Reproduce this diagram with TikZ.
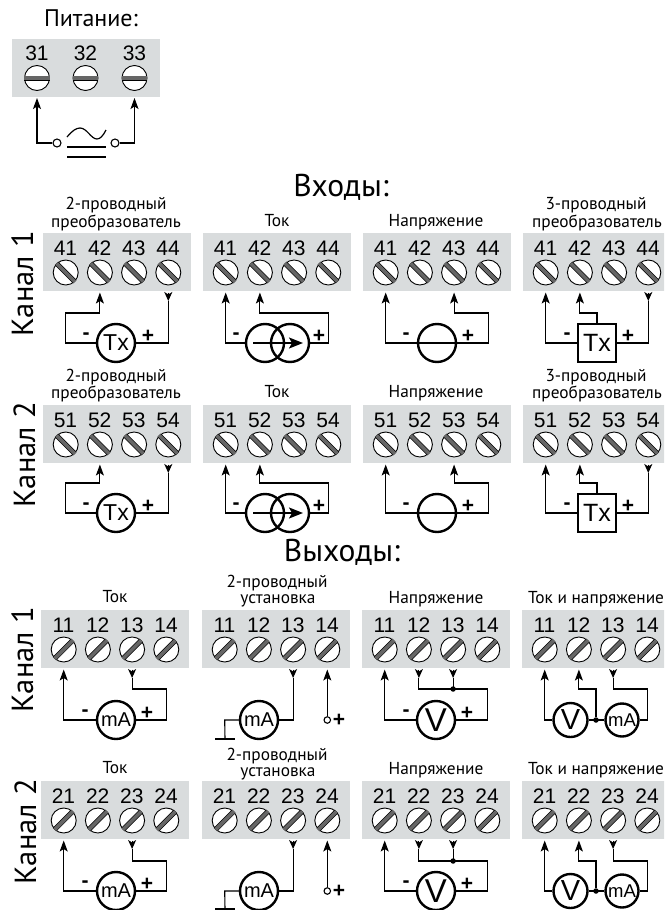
\documentclass[tikz,border=0pt]{standalone}
\usepackage{fontspec}
\setmainfont{PT Sans}
\newfontfamily\arialf{Liberation Sans}
\usetikzlibrary{arrows.meta,calc}
\definecolor{blockgray}{HTML}{D9DCDD}
\definecolor{slotgray}{HTML}{666666}
\newcommand\fs[1]{\fontsize{#1}{#1}\selectfont}
\tikzset{
  wire/.style={draw=black,line width=1.1pt,line join=miter},
  tipw/.style={wire,-{Stealth[length=11pt,width=8pt,inset=2.5pt]}},
  tipd/.style={wire,-{Stealth[length=9pt,width=8pt,inset=2.5pt]}},
  screwn/.style={circle,draw=black,fill=white,line width=.9pt,minimum size=25pt,inner sep=0pt},
  slotb/.style={draw=black,line width=5pt},
  slotg/.style={draw=slotgray,line width=3.6pt},
  numt/.style={font=\arialf\fs{21},inner sep=0pt,text height=15pt,text depth=0pt},
  capt/.style={font=\fs{17.3},inner sep=0pt,text height=12pt,text depth=3pt},
  title/.style={font=\fs{31.5},inner sep=0pt,text height=22pt,text depth=6pt},
  sidet/.style={font=\fs{30.5},inner sep=0pt,rotate=90,text height=22pt,text depth=0pt},
  sign/.style={font=\arialf\bfseries\fs{21},inner sep=0pt},
  comp/.style={circle,draw=black,fill=white,line width=2.4pt,minimum size=38pt,inner sep=0pt},
  compt/.style={font=\arialf\fs{#1},inner sep=0pt},
  dotn/.style={circle,fill=black,minimum size=5.5pt,inner sep=0pt},
  opn/.style={circle,draw=black,fill=white,line width=1.1pt,minimum size=#1,inner sep=0pt},
}
% name, left, top, numbers, anchor a, anchor b, upper y, line y
\newcommand\tblock[8]{%
  \node[fill=blockgray,minimum width=148pt,minimum height=58pt,inner sep=0pt,anchor=north west] (#1-b) at (#2,#3) {};
  \foreach \n [count=\i] in {#4}{%
    \pgfmathsetmacro\sx{#2+22.7+34.2*(\i-1)}
    \node[numt] (#1-n\i) at (\sx-.2,#3+14.5) {\n};
    \node[screwn] (#1-s\i) at (\sx,#3+39.5) {};
    \draw[slotb] (#1-s\i.#5) -- (#1-s\i.#6);
    \draw[slotg] (#1-s\i.#5) -- (#1-s\i.#6);
    \coordinate (#1-t\i) at (\sx,#3+59.5);
    \coordinate (#1-d\i) at (\sx,#3+68);
    \coordinate (#1-u\i) at (\sx,#7);
    \coordinate (#1-l\i) at (\sx,#8);
  }
}
\newcommand\dnarrow[2]{\draw[tipd] (#1-t#2) -- (#1-d#2);}
\newcommand\signs[4]{% name, minus x, plus x, line y
  \node[sign] (#1-minus) at (#2,#4-7) {-};
  \node[sign] (#1-plus) at (#3,#4-7) {+};}
% two-wire transmitter
\newcommand\ctwo[3]{% name, left, line y
  \node[comp] (#1-c) at (#2+73,#3) {};
  \node[compt=23] (#1-ct) at (#1-c) {Tx};
  \signs{#1}{#2+43}{#2+105}{#3}
  \draw[tipw] (#1-c.west) -- (#1-l1) -- (#1-u1) -- (#1-u2) -- (#1-t2);
  \dnarrow{#1}{4}
  \draw[wire] (#1-c.east) -- (#1-l4) -- (#1-d4);}
\newcommand\ccur[3]{%
  \node[comp,fill=none] (#1-c) at (#2+62,#3) {};
  \node[comp,fill=none] (#1-e) at (#2+87,#3) {};
  \coordinate (#1-a) at (#2+50,#3);
  \coordinate (#1-b2) at (#2+100,#3);
  \signs{#1}{#2+33}{#2+116}{#3}
  \draw[line width=1.7pt,-{Stealth[length=14pt,width=11pt,inset=3pt]}] (#1-a) -- (#1-b2);
  \draw[tipw] (#1-c.west) -- (#1-l1) -- (#1-t1);
  \draw[tipw] (#1-e.east) -- (#1-l4) -- (#1-u4) -- (#1-u2) -- (#1-t2);}
\newcommand\cvolt[3]{%
  \node[comp] (#1-c) at (#2+74,#3) {};
  \signs{#1}{#2+43}{#2+105}{#3}
  \draw[line width=1.7pt] (#1-c.west) -- (#1-c.east);
  \draw[tipw] (#1-c.west) -- (#1-l1) -- (#1-t1);
  \draw[tipw] (#1-c.east) -- (#1-l4) -- (#1-u4) -- (#1-u3) -- (#1-t3);}
\newcommand\cthree[3]{%
  \node[draw=black,fill=white,line width=2.4pt,minimum size=38pt,inner sep=0pt] (#1-c) at (#2+74,#3) {};
  \node[compt=25] (#1-ct) at (#1-c) {Tx};
  \signs{#1}{#2+44}{#2+105}{#3}
  \draw[tipw] (#1-c.west) -- (#1-l1) -- (#1-t1);
  \draw[tipw] (#1-c.north) -- (#1-c.north |- #1-u2) -- (#1-u2) -- (#1-t2);
  \dnarrow{#1}{4}
  \draw[wire] (#1-c.east) -- (#1-l4) -- (#1-d4);}
\newcommand\omA[3]{%
  \node[comp] (#1-c) at (#2+75,#3) {};
  \node[compt=20] (#1-ct) at (#1-c) {mA};
  \signs{#1}{#2+44}{#2+106}{#3}
  \draw[tipw] (#1-c.west) -- (#1-l1) -- (#1-t1);
  \dnarrow{#1}{3}
  \draw[wire] (#1-c.east) -- (#1-l4) -- (#1-u4) -- (#1-u3) -- (#1-d3);}
\newcommand\oinst[4]{% name,left,line y, ground y
  \node[comp] (#1-c) at (#2+57,#3) {};
  \node[compt=20] (#1-ct) at (#1-c) {mA};
  \coordinate (#1-g) at (#2+23,#4);
  \coordinate (#1-ga) at (#2+13,#4);
  \coordinate (#1-gb) at (#2+33,#4);
  \draw[wire] (#1-c.west) -- (#1-l1) -- (#1-g);
  \draw[line width=1.8pt] (#1-ga) -- (#1-gb);
  \dnarrow{#1}{3}
  \draw[wire] (#1-c.east) -- (#1-l3) -- (#1-d3);
  \node[opn=6.5pt] (#1-o) at (#1-l4) {};
  \draw[tipw] (#1-o.north) -- (#1-t4);
  \node[sign] (#1-plus) at (#2+137,#3) {+};}
\newcommand\oV[3]{%
  \node[comp] (#1-c) at (#2+74,#3) {};
  \node[compt=33] (#1-ct) at (#1-c) {V};
  \signs{#1}{#2+44}{#2+105}{#3}
  \draw[tipw] (#1-c.west) -- (#1-l1) -- (#1-t1);
  \dnarrow{#1}{2}
  \dnarrow{#1}{3}
  \draw[wire] (#1-c.east) -- (#1-l4) -- (#1-u4) -- (#1-u2) -- (#1-d2);
  \draw[wire] (#1-u3) -- (#1-d3);
  \node[dotn] (#1-j) at (#1-u3) {};}
\newcommand\oboth[3]{%
  \node[comp,minimum size=34pt] (#1-c) at (#2+48.5,#3) {};
  \node[compt=29] (#1-ct) at (#1-c) {V};
  \node[comp,minimum size=33pt] (#1-e) at (#2+100,#3) {};
  \node[compt=18.5] (#1-et) at (#1-e) {mA};
  \node[dotn] (#1-j) at (#2+74,#3) {};
  \draw[tipw] (#1-c.west) -- (#1-l1) -- (#1-t1);
  \draw[wire] (#1-c.east) -- (#1-e.west);
  \draw[tipw] (#1-j) -- (#1-j |- #1-u2) -- (#1-u2) -- (#1-t2);
  \dnarrow{#1}{3}
  \draw[wire] (#1-e.east) -- (#1-l4) -- (#1-u4) -- (#1-u3) -- (#1-d3);}
\begin{document}
\begin{tikzpicture}[x=1pt,y=-1pt]
\useasboundingbox (0,0) rectangle (664,910);
\clip (0,0) rectangle (664,910);
% Power
\node[font=\fs{24},inner sep=0pt,text height=17pt,text depth=1pt] (pow) at (91,19) {Питание:};
\node[fill=blockgray,minimum width=148pt,minimum height=58pt,inner sep=0pt,anchor=north west] (pb) at (12,39) {};
\foreach \n/\x [count=\i] in {31/37,32/85.5,33/134.5}{
  \node[numt] (pn\i) at (\x,52.5) {\n};
  \node[screwn] (ps\i) at (\x,78) {};
  \draw[slotb] (ps\i.180) -- (ps\i.0);
  \draw[slotg] (ps\i.180) -- (ps\i.0);
}
\coordinate (pt1) at (37,98);
\coordinate (pt3) at (134.5,98);
\coordinate (pc1) at (37,143);
\coordinate (pc3) at (134.5,143);
\node[opn=8pt] (po1) at (57,143) {};
\node[opn=8pt] (po3) at (115,143) {};
\draw[tipw] (po1.west) -- (pc1) -- (pt1);
\draw[tipw] (po3.east) -- (pc3) -- (pt3);
\draw[line width=1.2pt] (67,137) .. controls (72,131) and (76,128) .. (80,128) .. controls (87,128) and (91,139) .. (97,139) .. controls (100,139) and (103,136) .. (106,130);
\draw[line width=1.2pt] (67,147) -- (106,147);
\draw[line width=1.2pt] (67,157) -- (106,157);
% Titles
\node[title] (tin) at (341,188) {Входы:};
\node[title] (tout) at (342,553) {Выходы:};
\node[sidet] (k1) at (22,284) {Канал 1};
\node[sidet] (k2) at (24,455) {Канал 2};
\node[sidet] (k3) at (22,660) {Канал 1};
\node[sidet] (k4) at (25,832) {Канал 2};
% Inputs row 1
\node[capt] (a1) at (116,205) {2-проводный};
\node[capt] (a2) at (116,223) {преобразователь};
\node[capt] (a3) at (277,222) {Ток};
\node[capt] (a4) at (436,222) {Напряжение};
\node[capt] (a5) at (596,205) {3-проводный};
\node[capt] (a6) at (597,223) {преобразователь};
\tblock{A}{43}{233}{41,42,43,44}{135}{-45}{313}{343}
\tblock{B}{203}{233}{41,42,43,44}{135}{-45}{313}{343}
\tblock{C}{363}{233}{41,42,43,44}{135}{-45}{313}{343}
\tblock{D}{523}{233}{41,42,43,44}{135}{-45}{313}{343}
\ctwo{A}{43}{343}
\ccur{B}{203}{343}
\cvolt{C}{363}{343}
\cthree{D}{523}{343}
% Inputs row 2
\node[capt] (b1) at (116,377) {2-проводный};
\node[capt] (b2) at (116,394) {преобразователь};
\node[capt] (b3) at (277,393) {Ток};
\node[capt] (b4) at (436,393) {Напряжение};
\node[capt] (b5) at (596,377) {3-проводный};
\node[capt] (b6) at (597,394) {преобразователь};
\tblock{E}{43}{405}{51,52,53,54}{135}{-45}{483}{513}
\tblock{F}{203}{405}{51,52,53,54}{135}{-45}{483}{513}
\tblock{G}{363}{405}{51,52,53,54}{135}{-45}{483}{513}
\tblock{H}{523}{405}{51,52,53,54}{135}{-45}{483}{513}
\ctwo{E}{43}{513}
\ccur{F}{203}{513}
\cvolt{G}{363}{513}
\cthree{H}{523}{513}
% Outputs row 1
\node[capt] (c1) at (115,598) {Ток};
\node[capt] (c2) at (277,583) {2-проводный};
\node[capt] (c3) at (278,599) {установка};
\node[capt] (c4) at (436,599) {Напряжение};
\node[capt] (c5) at (596,599) {Ток и напряжение};
\tblock{I}{41}{610}{11,12,13,14}{45}{225}{689}{720}
\tblock{J}{202}{610}{11,12,13,14}{45}{225}{689}{720}
\tblock{K}{362}{610}{11,12,13,14}{45}{225}{689}{720}
\tblock{L}{522}{610}{11,12,13,14}{45}{225}{689}{720}
\omA{I}{41}{720}
\oinst{J}{202}{720}{739}
\oV{K}{362}{720}
\oboth{L}{522}{720}
% Outputs row 2
\node[capt] (d1) at (115,769) {Ток};
\node[capt] (d2) at (277,756) {2-проводный};
\node[capt] (d3) at (278,772) {установка};
\node[capt] (d4) at (436,770) {Напряжение};
\node[capt] (d5) at (596,770) {Ток и напряжение};
\tblock{M}{41}{781}{21,22,23,24}{45}{225}{861}{891}
\tblock{N}{202}{781}{21,22,23,24}{45}{225}{861}{891}
\tblock{O}{362}{781}{21,22,23,24}{45}{225}{861}{891}
\tblock{P}{522}{781}{21,22,23,24}{45}{225}{861}{891}
\omA{M}{41}{891}
\oinst{N}{202}{891}{909}
\oV{O}{362}{891}
\oboth{P}{522}{891}
\end{tikzpicture}
\end{document}
